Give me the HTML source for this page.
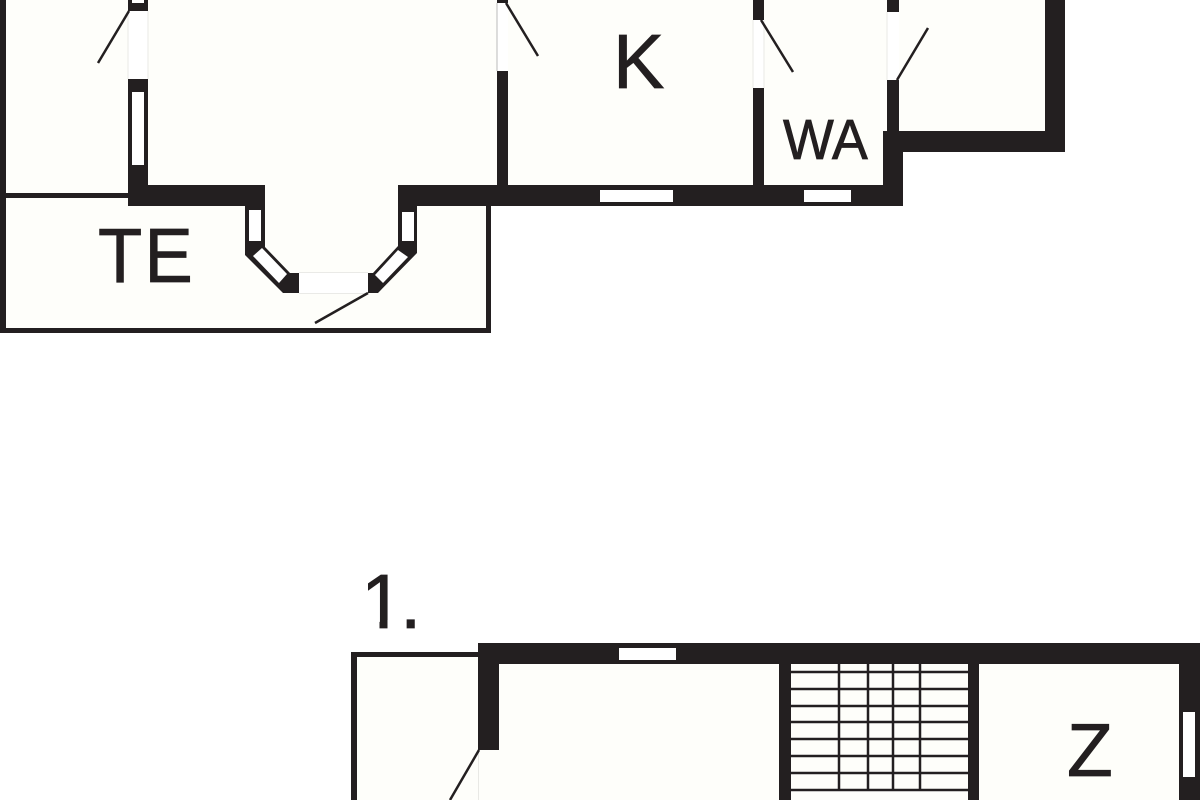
<!DOCTYPE html>
<html>
<head>
<meta charset="utf-8">
<style>
html,body{margin:0;padding:0;background:#fff;width:1200px;height:800px;overflow:hidden}
svg{display:block}
text{font-family:"Liberation Sans",sans-serif;fill:#231f20;stroke:#231f20;stroke-width:.8}
</style>
</head>
<body>
<svg width="1200" height="800" viewBox="0 0 1200 800" xmlns="http://www.w3.org/2000/svg">
<rect width="1200" height="800" fill="#fff"/>

<!-- top floor: cream fill -->
<path d="M0 0H1065V152H903V206H491V333H0Z" fill="#fefefa"/>

<g fill="#231f20">
  <!-- outer thin walls -->
  <rect x="0" y="0" width="6" height="333"/>
  <rect x="0" y="193" width="130" height="5"/>
  <rect x="0" y="328" width="491" height="5"/>
  <rect x="486" y="204" width="5" height="129"/>
  <!-- left partition -->
  <rect x="128" y="0" width="20" height="11"/>
  <rect x="128" y="79" width="20" height="127"/>
  <!-- main south wall left -->
  <rect x="128" y="185" width="137" height="21"/>
  <!-- bay left -->
  <path d="M245 200V255L283 293H299V273H290L265 247V200Z"/>
  <!-- bay right -->
  <path d="M398 185V246L373 273H368V293H378L417 253V206H398Z"/>
  <!-- main south wall right -->
  <rect x="398" y="185" width="505" height="21"/>
  <!-- partitions -->
  <rect x="497" y="0" width="11" height="3"/>
  <rect x="497" y="71" width="11" height="120"/>
  <rect x="753" y="0" width="11" height="20"/>
  <rect x="753" y="88" width="11" height="100"/>
  <rect x="887" y="0" width="12" height="12"/>
  <rect x="887" y="80" width="12" height="60"/>
  <!-- SE walls -->
  <rect x="883" y="131" width="20" height="75"/>
  <rect x="883" y="131" width="182" height="21"/>
  <rect x="1045" y="0" width="20" height="152"/>
</g>

<!-- top floor windows -->
<g fill="#fff">
  <rect x="132" y="0" width="12" height="3"/>
  <rect x="132" y="92" width="12" height="73"/>
  <rect x="249" y="210" width="12" height="31"/>
  <rect x="402" y="212" width="12" height="29"/>
  <polygon points="262,248 287,274 279,283 253,256"/>
  <polygon points="398,250 408,257 383,283 375,275"/>
  <rect x="600" y="190" width="73" height="12"/>
  <rect x="804" y="190" width="47" height="12"/>
  <!-- door openings -->
  <rect x="128" y="11" width="20" height="68"/>
  <rect x="299" y="272" width="69" height="22"/>
  <rect x="497" y="3" width="11" height="68"/>
  <rect x="753" y="20" width="11" height="68"/>
  <rect x="887" y="12" width="12" height="68"/>
</g>
<g stroke="#e4e4e0" stroke-width="0.8" fill="none">
  <path d="M128 11V79M148 11V79M299 272.500H368M299 293.500H368M764 20V88M753 20V88M887 12V80"/>
  <path d="M497 3V71" stroke="#aaa"/>
</g>

<!-- door leaves -->
<g stroke="#231f20" stroke-width="2.500" fill="none">
  <path d="M129 11L98 63"/>
  <path d="M368 293L315 323"/>
  <path d="M506 3L538 56"/>
  <path d="M761 20L793 72"/>
  <path d="M897 80L928 28"/>
</g>

<!-- lower floor -->
<rect x="351" y="652" width="849" height="148" fill="#fefefa"/>
<rect x="478" y="643" width="722" height="21" fill="#231f20"/>
<g fill="#231f20">
  <rect x="351" y="652" width="6" height="148"/>
  <rect x="351" y="652" width="130" height="5"/>
  <rect x="478" y="643" width="21" height="107"/>
  <rect x="779" y="660" width="12" height="140"/>
  <rect x="968" y="660" width="11" height="140"/>
  <rect x="1179" y="660" width="21" height="140"/>
</g>
<g fill="#fff">
  <rect x="619" y="648" width="57" height="12"/>
  <rect x="1183" y="712" width="12" height="65"/>
</g>
<path d="M478.500 750V800" stroke="#e4e4e0" stroke-width="0.8"/>
<path d="M479 750L450 800" stroke="#231f20" stroke-width="2.500" fill="none"/>

<!-- stairs -->
<g stroke="#231f20" stroke-width="2.500" fill="none">
  <path d="M791 672H968M791 689H968M791 706H968M791 722H968M791 739H968M791 756H968M791 773H968M791 790H968"/>
  <path d="M839 664V790M868 664V790M893 664V790M920 664V790"/>
</g>

<!-- labels -->
<text transform="translate(98 282) scale(.94 1)" font-size="77">T</text>
<text transform="translate(144.500 282) scale(.94 1)" font-size="77">E</text>
<text x="613" y="88" font-size="77">K</text>
<text transform="translate(783 159) scale(.945 1)" font-size="57">WA</text>
<text x="361" y="628" font-size="77">1</text>
<!-- mask the foot of the 1: the reference numeral has a plain stem -->
<rect x="360" y="620" width="19.500" height="10" fill="#fff"/>
<rect x="387.500" y="620" width="15" height="10" fill="#fff"/>
<text x="400" y="628" font-size="77">.</text>
<text x="1067" y="776" font-size="75">Z</text>
</svg>
</body>
</html>
